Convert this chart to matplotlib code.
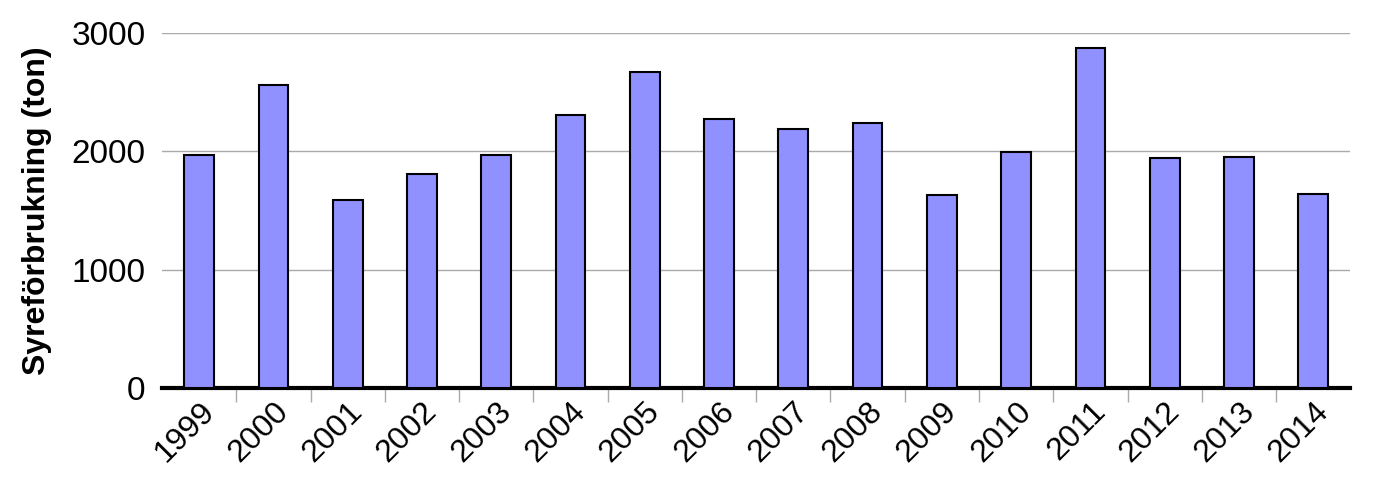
import matplotlib
matplotlib.use("Agg")
import matplotlib.pyplot as plt
import numpy as np

years = ["1999", "2000", "2001", "2002", "2003", "2004", "2005", "2006",
         "2007", "2008", "2009", "2010", "2011", "2012", "2013", "2014"]
values = [1965, 2557, 1588, 1810, 1965, 2307, 2668, 2273,
          2185, 2239, 1635, 1997, 2876, 1943, 1954, 1641]
yticks = [0, 1000, 2000, 3000]
ylabel = "Syreförbrukning (ton)"

plt.rcParams['font.family'] = ['Liberation Sans', 'DejaVu Sans']

fig = plt.figure(figsize=(13.85, 5.0), dpi=100)
ax = fig.add_axes([0.117, 0.224, 0.858, 0.710])

x = np.arange(len(years))
ax.bar(x, values, width=0.4, color='#9090ff', edgecolor='black', linewidth=1.5, zorder=3)

ax.set_xlim(-0.5, len(years) - 0.5)
ax.set_ylim(0, 3000)
ax.set_yticks(yticks)
ax.set_yticklabels([str(v) for v in yticks], fontsize=24)
ax.tick_params(axis='y', length=0, pad=12)
ax.yaxis.grid(True, color='#aaaaaa', linewidth=1.0, zorder=0)
ax.set_axisbelow(True)

# category labels at centers, tick marks at boundaries
ax.set_xticks(x)
ax.set_xticklabels(years, rotation=45, ha='right', rotation_mode='anchor', fontsize=23)
ax.tick_params(axis='x', which='major', length=0, pad=6)
ax.set_xticks(np.arange(0.5, len(years) - 0.5, 1.0), minor=True)
ax.tick_params(axis='x', which='minor', length=10, width=1, color='#aaaaaa', direction='out')

for s in ['top', 'right', 'left']:
    ax.spines[s].set_visible(False)
ax.spines['bottom'].set_linewidth(3)
ax.spines['bottom'].set_color('black')

ax.set_ylabel(ylabel, fontsize=23, fontweight='bold', labelpad=14)

fig.savefig("out.png", dpi=100)
